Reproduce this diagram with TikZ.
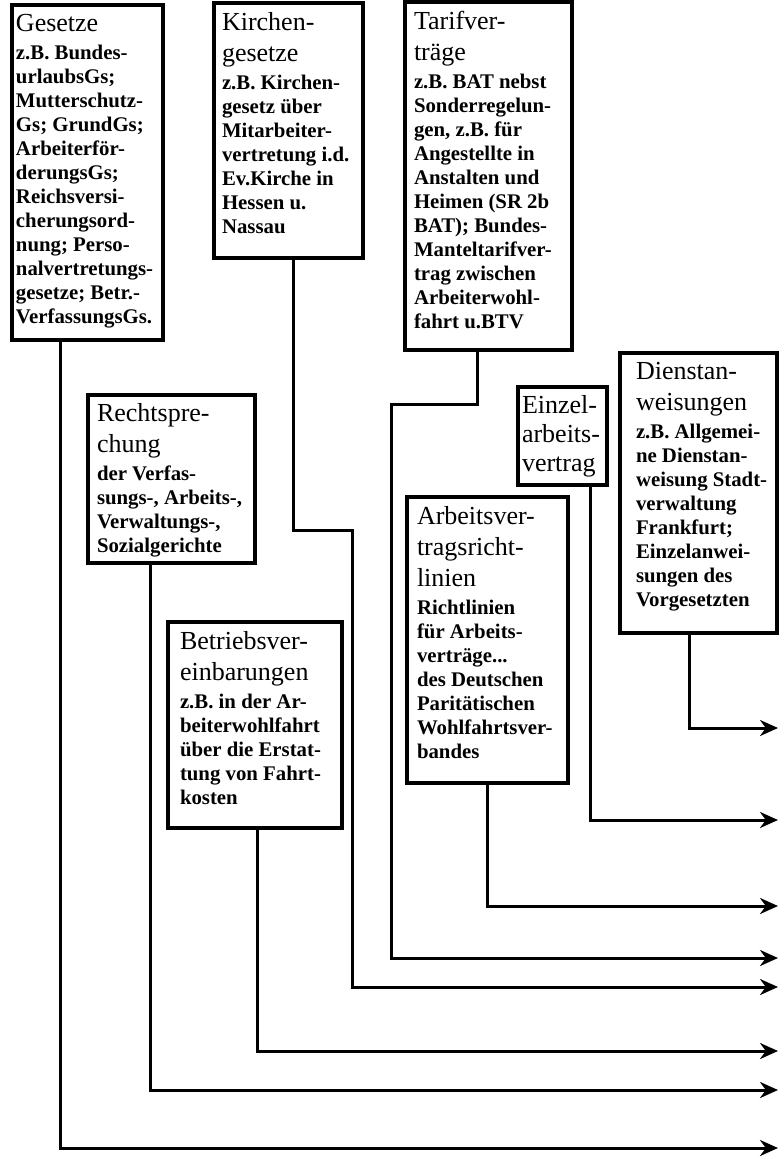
\documentclass[tikz,border=0pt]{standalone}
\usepackage{fontspec}
\setmainfont{Liberation Serif}
\usetikzlibrary{arrows.meta}
\newcommand{\kopf}[1]{{\fontsize{13}{15.5}\selectfont #1\par}\vspace{2.3pt}}
\newcommand{\inhalt}[1]{{\fontsize{10.4}{12}\selectfont\bfseries #1\par}}
\newcommand{\kasten}[3]{\parbox[c][#2][t]{#1}{\raggedright #3}}
\tikzset{
  quelle/.style={draw, line width=1.8pt, anchor=north west, inner xsep=4pt, inner ysep=4.5pt, outer sep=0pt},
  fluss/.style={line width=1.5pt, -{Stealth[length=9pt,width=8pt]}}
}
\begin{document}
\begin{tikzpicture}[x=0.5pt,y=-0.5pt]
      \useasboundingbox (0,0) rectangle (779,1159);
      \node[quelle, inner xsep=2pt] (gesetze) at (12,5) {\kasten{71.5pt}{158.5pt}{\kopf{Gesetze}\inhalt{z.B. Bundes-\\urlaubsGs;\\Mutterschutz-\\Gs; GrundGs;\\Arbeiterför-\\derungsGs;\\Reichsversi-\\cherungsord-\\nung; Perso-\\nalvertretungs-\\gesetze; Betr.-\\VerfassungsGs.}}};
      \node[quelle] (kirchen) at (214,3) {\kasten{66.5pt}{118.5pt}{\kopf{Kirchen-\\gesetze}\inhalt{z.B. Kirchen-\\gesetz über\\Mitarbeiter-\\vertretung i.d.\\Ev.Kirche in\\Hessen u.\\Nassau}}};
      \node[quelle, inner xsep=4.5pt] (tarif) at (405,2) {\kasten{74.5pt}{165pt}{\kopf{Tarifver-\\träge}\inhalt{z.B. BAT nebst\\Sonderregelun-\\gen, z.B. für\\Angestellte in\\Anstalten und\\Heimen (SR 2b\\BAT); Bundes-\\Manteltarifver-\\trag zwischen\\Arbeiterwohl-\\fahrt u.BTV}}};
      \node[quelle, inner xsep=2pt] (dienst) at (620,353) {\kasten{74.5pt}{131pt}{\leftskip=6pt\kopf{Dienstan-\\weisungen}\inhalt{z.B. Allgemei-\\ne Dienstan-\\weisung Stadt-\\verwaltung\\Frankfurt;\\Einzelanwei-\\sungen des\\Vorgesetzten}}};
      \node[quelle, inner xsep=2pt, inner ysep=4pt] (einzel) at (518,387) {\kasten{40.5pt}{41pt}{\fontsize{13}{14.5}\selectfont Einzel-\\arbeits-\\vertrag}};
      \node[quelle, inner xsep=4.5pt, inner ysep=4pt] (recht) at (88,395) {\kasten{74.5pt}{76pt}{\kopf{Rechtspre-\\chung}\inhalt{der Verfas-\\sungs-, Arbeits-,\\Verwaltungs-,\\Sozialgerichte}}};
      \node[quelle, inner xsep=5pt] (avr) at (407,497) {\kasten{70.5pt}{134pt}{\kopf{Arbeitsver-\\tragsricht-\\linien}\inhalt{Richtlinien\\für Arbeits-\\verträge...\\des Deutschen\\Paritätischen\\Wohlfahrtsver-\\bandes}}};
      \node[quelle, inner xsep=6pt] (betrieb) at (168,622) {\kasten{75pt}{94pt}{\kopf{Betriebsver-\\einbarungen}\inhalt{z.B. in der Ar-\\beiterwohlfahrt\\über die Erstat-\\tung von Fahrt-\\kosten}}};

      \coordinate (zdienst) at (778,728);
      \coordinate (zeinzel) at (778,820);
      \coordinate (zavr) at (778,906);
      \coordinate (ztarif) at (778,958);
      \coordinate (zkirchen) at (778,987);
      \coordinate (zbetrieb) at (778,1051);
      \coordinate (zrecht) at (778,1090);
      \coordinate (zgesetze) at (778,1148);

      \draw[fluss] (dienst.south west) ++(69,0) |- (zdienst);
      \draw[fluss] (einzel.south west) ++(72,0) |- (zeinzel);
      \draw[fluss] (avr.south west) ++(80,0) |- (zavr);
      \draw[fluss] (tarif.south west) ++(72,0) -- ++(0,55) -- ++(-86,0) |- (ztarif);
      \draw[fluss] (kirchen.south west) ++(79,0) -- ++(0,272) -- ++(59,0) |- (zkirchen);
      \draw[fluss] (betrieb.south west) ++(89,0) |- (zbetrieb);
      \draw[fluss] (recht.south west) ++(62,0) |- (zrecht);
      \draw[fluss] (gesetze.south west) ++(48,0) |- (zgesetze);
\end{tikzpicture}
\end{document}
